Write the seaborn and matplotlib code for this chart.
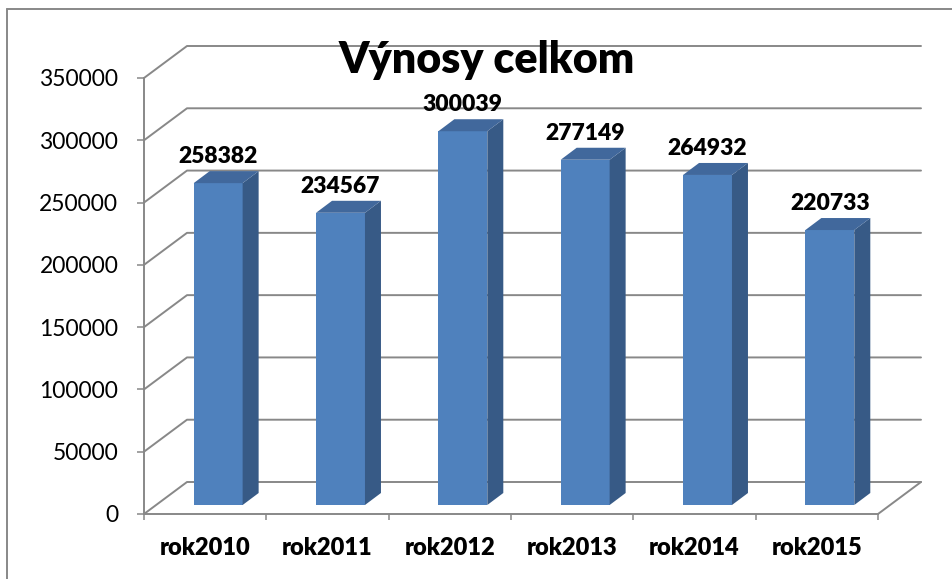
import numpy as np
import pandas as pd
import matplotlib
matplotlib.use("Agg")
import matplotlib.pyplot as plt
import seaborn as sns
from matplotlib.patches import Polygon
from matplotlib.transforms import ScaledTranslation
from matplotlib.lines import Line2D

# ---- data ----
categories = ["rok2010", "rok2011", "rok2012", "rok2013", "rok2014", "rok2015"]
values = [258382, 234567, 300039, 277149, 264932, 220733]
yticks = [0, 50000, 100000, 150000, 200000, 250000, 300000, 350000]
title = "Výnosy celkom"

FRONT = "#4F81BD"
SIDE = "#375A86"
TOP = "#41689C"
GRID = "#888888"

sns.set_style("white")
plt.rcParams['font.family'] = ['Lato', 'DejaVu Sans']

W, H = 953, 579
fig = plt.figure(figsize=(W / 100, H / 100), dpi=100)
ax = fig.add_axes([144 / W, (H - 514) / H, (878 - 144) / W, (514 - 78) / H])

df = pd.DataFrame({"rok": categories, "vynosy": values})
sns.barplot(data=df, x="rok", y="vynosy", width=0.4, color=FRONT,
            saturation=1, ax=ax, zorder=3)
ax.set_xlim(-0.5, len(categories) - 0.5)
ax.set_ylim(0, yticks[-1])
ax.set_xlabel("")
ax.set_ylabel("")

for k, s in ax.spines.items():
    s.set_visible(k in ("left", "bottom"))
    s.set_color(GRID)
    s.set_linewidth(1.4)
    s.set_zorder(1)

ax.set_yticks(yticks)
ax.set_yticklabels([str(v) for v in yticks])
ax.tick_params(axis='y', length=5, width=1.1, color=GRID, pad=13.5,
               labelsize=16.5, labelcolor="black", left=True)
ax.set_xticks(range(len(categories)))
ax.set_xticklabels(categories, fontweight="heavy")
ax.set_xticks(np.arange(-0.5, len(categories), 1.0), minor=True)
ax.tick_params(axis='x', which='major', length=0, pad=16.5, labelsize=17,
               labelcolor="black")
ax.tick_params(axis='x', which='minor', length=4.5, width=1.1, color=GRID,
               bottom=True)


def shift(x, y, dx, dy):
    px, py = ax.transData.transform((x, y))
    return tuple(ax.transData.inverted().transform((px + dx, py + dy)))


# 3D walls / gridlines
WDX, WDY = 43, 32
x0, x1 = -0.5, len(categories) - 0.5
for v in yticks:
    a = (x0, v)
    b = shift(x0, v, WDX, WDY)
    c = shift(x1, v, WDX, WDY)
    ax.add_line(Line2D([a[0], b[0], c[0]], [a[1], b[1], c[1]], color=GRID,
                       lw=1.4, zorder=0.5, clip_on=False))
d = shift(x1, 0, WDX, WDY)
ax.add_line(Line2D([x1, d[0]], [0, d[1]], color=GRID, lw=1.4, zorder=0.5,
                   clip_on=False))

# bars in 3D
FDX, FDY = 13, 9
BDX, BDY = 16, 12
off = ScaledTranslation(FDX / 100, FDY / 100, fig.dpi_scale_trans)
for p, v in zip(ax.patches, values):
    bx, bw, bh = p.get_x(), p.get_width(), p.get_height()
    p.set_transform(ax.transData + off)
    p.set_clip_on(False)
    p.set_edgecolor("none")
    # side face
    s1 = shift(bx + bw, 0, FDX, FDY)
    s2 = shift(bx + bw, bh, FDX, FDY)
    s3 = shift(bx + bw, bh, FDX + BDX, FDY + BDY)
    s4 = shift(bx + bw, 0, FDX + BDX, FDY + BDY)
    ax.add_patch(Polygon([s1, s2, s3, s4], closed=True, facecolor=SIDE,
                         edgecolor="none", zorder=3, clip_on=False))
    # top face
    t1 = shift(bx, bh, FDX, FDY)
    t2 = shift(bx + bw, bh, FDX, FDY)
    t3 = shift(bx + bw, bh, FDX + BDX, FDY + BDY)
    t4 = shift(bx, bh, FDX + BDX, FDY + BDY)
    ax.add_patch(Polygon([t1, t2, t3, t4], closed=True, facecolor=TOP,
                         edgecolor="none", zorder=3, clip_on=False))
    ax.annotate(str(v), xy=(bx + bw / 2, bh),
                xytext=(FDX * 0.72, (FDY + 20) * 0.72),
                textcoords="offset points", ha="center", va="baseline",
                fontsize=16.5, fontweight="heavy", color="black", zorder=4,
                annotation_clip=False)

fig.text(486.5 / W, 1 - 73 / H, title, ha="center", va="baseline",
         fontsize=31, fontweight="heavy", color="black", zorder=5)

# chart border
fig.add_artist(Line2D([7.5 / W, 7.5 / W], [0, 1 - 9 / H], color=GRID, lw=1.4,
                      transform=fig.transFigure))
fig.add_artist(Line2D([7.5 / W, 1], [1 - 9 / H, 1 - 9 / H], color=GRID, lw=1.4,
                      transform=fig.transFigure))

fig.savefig("out.png", dpi=100)
